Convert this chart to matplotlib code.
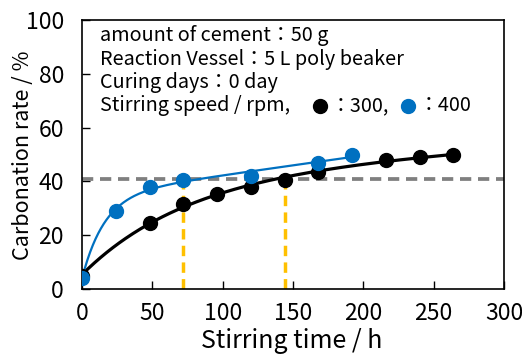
import numpy as np
import matplotlib
matplotlib.use("Agg")
import matplotlib.pyplot as plt
from matplotlib import font_manager

# ---- data ----
t_300 = [0, 48, 72, 96, 120, 144, 168, 216, 240, 264]
r_300 = [5.0, 24.5, 31.5, 35.5, 38.0, 40.5, 43.5, 48.0, 49.0, 50.0]
t_400 = [0, 24, 48, 72, 120, 168, 192]
r_400 = [4.0, 29.0, 38.0, 40.5, 42.0, 47.0, 50.0]
threshold = 41
marker_times = [72, 144]
x_ticks = [0, 50, 100, 150, 200, 250, 300]
y_ticks = [0, 20, 40, 60, 80, 100]
info_lines = ["amount of cement：50 g",
              "Reaction Vessel：5 L poly beaker",
              "Curing days：0 day"]

names = {f.name for f in font_manager.fontManager.ttflist}
fam = ["Noto Sans CJK JP", "DejaVu Sans"]
fam = [f for f in fam if f in names] or ["DejaVu Sans"]
plt.rcParams['font.family'] = fam

W, H = 522, 356
fig = plt.figure(figsize=(W / 100, H / 100), dpi=100)
ax = fig.add_axes([82 / W, 1 - 289 / H, (504 - 82) / W, (289 - 20) / H])


def fit(t, r, tau):
    t = np.asarray(t, float)
    A = np.column_stack([np.ones_like(t), 1 - np.exp(-t / tau), t])
    c, *_ = np.linalg.lstsq(A, np.asarray(r, float), rcond=None)
    tt = np.linspace(0, t.max(), 300)
    return tt, c[0] + c[1] * (1 - np.exp(-tt / tau)) + c[2] * tt


blue = "#0070C0"
tt, yy = fit(t_300, r_300, 75)
ax.plot(tt, yy, color="black", lw=2.3, zorder=3)
tt2, yy2 = fit(t_400, r_400, 16)
ax.plot(tt2, yy2, color=blue, lw=1.6, zorder=3)
ax.plot(t_300, r_300, "o", color="black", ms=10, zorder=4)
ax.plot(t_400, r_400, "o", color=blue, ms=10, zorder=5)

ax.axhline(threshold, color="#7F7F7F", lw=2.7, ls=(0, (3, 1.8)), zorder=2)
for x in marker_times:
    ax.plot([x, x], [0, threshold], color="#FFC000", lw=2.5, ls=(0, (3, 1.8)), zorder=2)

ax.set_xlim(0, 300)
ax.set_ylim(0, 100)
ax.set_xticks(x_ticks)
ax.set_yticks(y_ticks)
ax.tick_params(direction="in", length=6, width=1, labelsize=16.5)
ax.tick_params(axis="x", pad=9)
ax.tick_params(axis="y", pad=13)
for s in ax.spines.values():
    s.set_linewidth(1.2)
ax.set_xlabel("Stirring time / h", fontsize=18)
ax.set_ylabel("Carbonation rate / %", fontsize=15.5)
ax.xaxis.set_label_coords((292 - 82) / (504 - 82), -(328 - 289) / (289 - 20))
ax.yaxis.set_label_coords(-(82 - 34) / (504 - 82), (289 - 155) / (289 - 20))


def fx(px):
    return px / W


def fy(py):
    return 1 - py / H


fs = 14.3
for i, line in enumerate(info_lines):
    fig.text(fx(100), fy(36 + 23.3 * i), line, fontsize=fs, va="center", ha="left")
y4 = 106
fig.text(fx(100), fy(y4), "Stirring speed / rpm,", fontsize=fs, va="center")
fig.text(fx(331), fy(y4), "：300,", fontsize=fs, va="center")
fig.text(fx(419), fy(y4), "：400", fontsize=fs, va="center")
fig.lines.append(plt.Line2D([fx(320)], [fy(y4)], marker="o", ms=10, color="black",
                            transform=fig.transFigure, figure=fig))
fig.lines.append(plt.Line2D([fx(408)], [fy(y4)], marker="o", ms=10, color=blue,
                            transform=fig.transFigure, figure=fig))

fig.savefig("out.png", dpi=100)
